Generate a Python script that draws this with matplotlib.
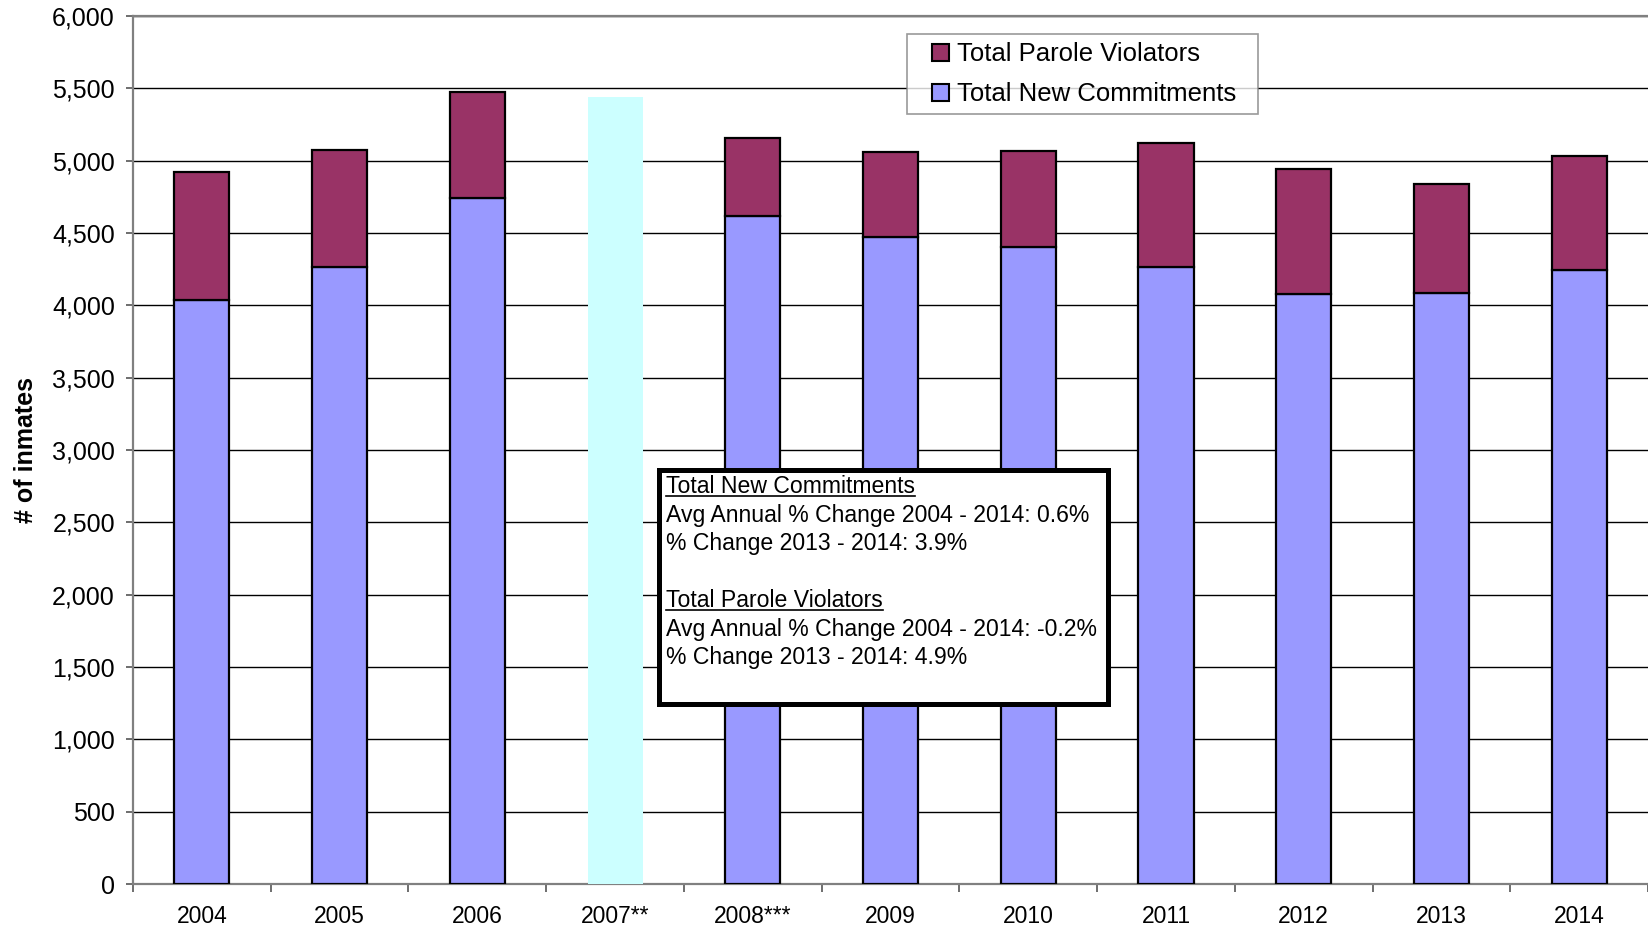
import matplotlib
matplotlib.use("Agg")
import matplotlib.pyplot as plt
import numpy as np
from matplotlib.patches import Patch, Rectangle
from matplotlib.lines import Line2D
from matplotlib.legend_handler import HandlerPatch

YEARS = ["2004", "2005", "2006", "2007**", "2008***", "2009",
         "2010", "2011", "2012", "2013", "2014"]
NEW_COMMITMENTS = [4039, 4265, 4743, np.nan, 4620, 4473, 4406, 4267, 4080, 4087, 4246]
PAROLE_VIOLATORS = [886, 810, 730, np.nan, 538, 585, 662, 856, 861, 749, 786]
# 2007 has no breakdown, only a placeholder bar
GAP_YEAR = "2007**"
GAP_HEIGHT = 5443

NOTE_LINES = [
    ("Total New Commitments", True),
    ("Avg Annual % Change 2004 - 2014: 0.6%", False),
    ("% Change 2013 - 2014: 3.9%", False),
    ("", False),
    ("Total Parole Violators", True),
    ("Avg Annual % Change 2004 - 2014: -0.2%", False),
    ("% Change 2013 - 2014: 4.9%", False),
]

PURPLE = "#993366"
BLUE = "#9999ff"
CYAN = "#ccffff"

W, H = 1648, 930
plt.rcParams["font.family"] = ["Liberation Sans", "DejaVu Sans"]


def square_right(legend, orig_handle, xdescent, ydescent, width, height, fontsize):
    # square swatch pushed to the right end of the handle box
    return Rectangle((-xdescent + width - height, -ydescent), height, height)


fig = plt.figure(figsize=(W / 100, H / 100), dpi=100)
ax = fig.add_axes([133 / W, 1 - 884 / H, 1 - 133 / W, (884 - 16) / H])

x = np.arange(len(YEARS))
new = np.array(NEW_COMMITMENTS, dtype=float)
par = np.array(PAROLE_VIOLATORS, dtype=float)
gi = YEARS.index(GAP_YEAR)

ax.bar(x, new, width=0.4, color=BLUE, edgecolor="black", linewidth=1.6, zorder=3)
ax.bar(x, par, width=0.4, bottom=new, color=PURPLE, edgecolor="black", linewidth=1.6, zorder=3)
ax.bar(x[gi], GAP_HEIGHT, width=0.4, color=CYAN, linewidth=0, zorder=3)

ax.set_xlim(-0.5, len(YEARS) - 0.5)
ax.set_ylim(0, 6000)
ax.set_yticks(np.arange(0, 6001, 500))
ax.set_yticklabels([f"{v:,}" for v in range(0, 6001, 500)], fontsize=18)
ax.yaxis.grid(True, color="black", linewidth=1.0, zorder=0)
ax.set_axisbelow(True)

ax.set_xticks(x)
ax.set_xticklabels(YEARS, fontsize=16.5, family=["Liberation Sans Narrow", "Liberation Sans"])
ax.set_xticks(np.arange(-0.5, len(YEARS), 1), minor=True)
ax.tick_params(axis="x", which="major", length=0, pad=15)
ax.tick_params(axis="x", which="minor", length=6, direction="out", color="#555555", width=1.2)
ax.tick_params(axis="y", length=5, direction="out", color="#555555", width=1.2, pad=8)

for s in ("top", "left", "bottom"):
    ax.spines[s].set_color("#808080")
    ax.spines[s].set_linewidth(1.6)
ax.spines["right"].set_visible(False)

fig.text(26 / W, 1 - 450 / H, "# of inmates", rotation=90, ha="center", va="center",
         fontsize=18, fontweight="bold")

handles = [Patch(facecolor=PURPLE, edgecolor="black", linewidth=1.5),
           Patch(facecolor=BLUE, edgecolor="black", linewidth=1.5)]
leg = ax.legend(handles, ["Total Parole Violators", "Total New Commitments"],
                loc="upper left", bbox_to_anchor=(907 / W, 1 - 114 / H, 351 / W, 80 / H),
                bbox_transform=fig.transFigure, mode="expand", fontsize=18.5,
                frameon=True, fancybox=False, handlelength=1.31, handleheight=0.65,
                handletextpad=0.3, labelspacing=0.62, borderpad=0.32,
                borderaxespad=0,
                handler_map={Patch: HandlerPatch(patch_func=square_right)})
leg.get_frame().set_edgecolor("#808080")
leg.get_frame().set_linewidth(1.2)
leg.set_zorder(5)

# note box
box = Rectangle((658.5 / W, 1 - 703.5 / H), (1107.5 - 658.5) / W, (703.5 - 469.5) / H,
                transform=fig.transFigure, facecolor="white", edgecolor="black",
                linewidth=3.6, zorder=4)
fig.add_artist(box)

texts = []
for i, (line, under) in enumerate(NOTE_LINES):
    base = 493 + 28.5 * i
    t = fig.text(666 / W, 1 - base / H, line, ha="left", va="baseline",
                 fontsize=16.6, zorder=6)
    texts.append((t, under, base))

fig.canvas.draw()
r = fig.canvas.get_renderer()
for t, under, base in texts:
    if under:
        bb = t.get_window_extent(r)
        yy = 1 - (base + 2.5) / H
        fig.add_artist(Line2D([bb.x0 / W, bb.x1 / W], [yy, yy], transform=fig.transFigure,
                              color="black", linewidth=1.2, zorder=6))

fig.savefig("out.png", dpi=100)
